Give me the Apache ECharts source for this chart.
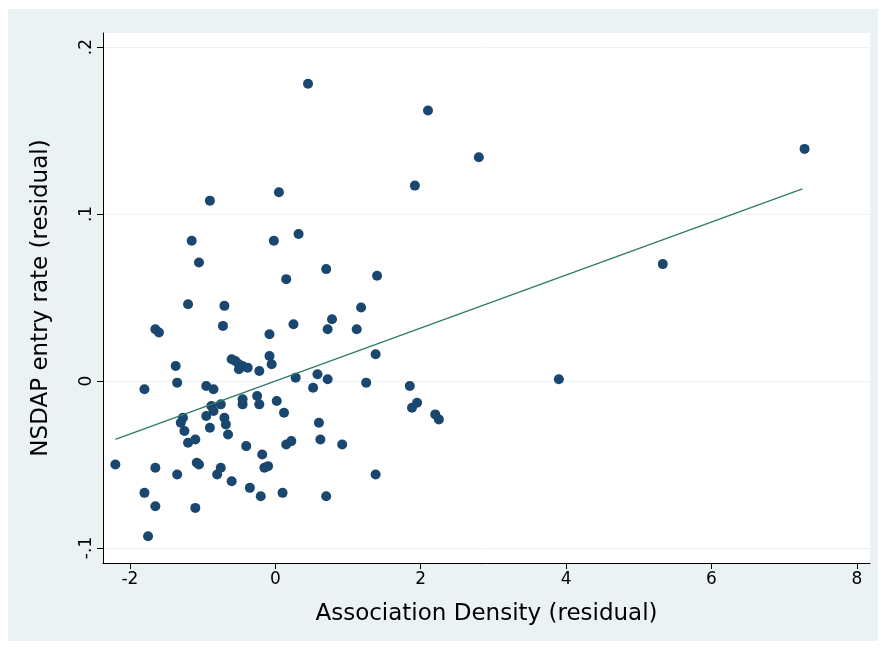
<!DOCTYPE html>
<html>
<head>
<meta charset="utf-8">
<script src="https://cdn.jsdelivr.net/npm/echarts@6/dist/echarts.min.js"></script>
<style>body{margin:0;background:#fff}#main{width:883px;height:649px}</style>
</head>
<body>
<div id="main"></div>
<script>
const points = [
  [-2.2,-0.05],[-1.8,-0.067],[-1.8,-0.005],[-1.75,-0.093],[-1.65,-0.075],[-1.65,-0.052],[-1.65,0.031],[-1.6,0.029],
  [-1.37,0.009],[-1.35,-0.001],[-1.35,-0.056],[-1.3,-0.025],[-1.27,-0.022],[-1.25,-0.03],[-1.2,-0.037],[-1.2,0.046],
  [-1.15,0.084],[-1.1,-0.035],[-1.1,-0.076],[-1.08,-0.049],[-1.05,-0.05],[-1.05,0.071],[-0.95,-0.021],[-0.95,-0.003],
  [-0.9,-0.028],[-0.9,0.108],[-0.88,-0.015],[-0.85,-0.005],[-0.85,-0.018],[-0.8,-0.056],[-0.75,-0.014],[-0.75,-0.052],
  [-0.72,0.033],[-0.7,0.045],[-0.7,-0.022],[-0.68,-0.026],[-0.65,-0.032],[-0.6,0.013],[-0.6,-0.06],[-0.55,0.012],
  [-0.5,0.007],[-0.5,0.01],[-0.45,0.009],[-0.45,-0.014],[-0.45,-0.011],[-0.4,-0.039],[-0.38,0.008],[-0.35,-0.064],
  [-0.25,-0.009],[-0.22,0.006],[-0.22,-0.014],[-0.2,-0.069],[-0.18,-0.044],[-0.15,-0.052],[-0.1,-0.051],[-0.08,0.028],
  [-0.08,0.015],[-0.05,0.01],[-0.02,0.084],[0.02,-0.012],[0.05,0.113],[0.1,-0.067],[0.12,-0.019],[0.15,0.061],
  [0.15,-0.038],[0.22,-0.036],[0.25,0.034],[0.28,0.002],[0.32,0.088],[0.45,0.178],[0.52,-0.004],[0.58,0.004],
  [0.6,-0.025],[0.62,-0.035],[0.7,0.067],[0.7,-0.069],[0.72,0.031],[0.72,0.001],[0.78,0.037],[0.92,-0.038],
  [1.12,0.031],[1.18,0.044],[1.25,-0.001],[1.38,0.016],[1.4,0.063],[1.38,-0.056],[1.85,-0.003],[1.88,-0.016],
  [1.92,0.117],[1.95,-0.013],[2.1,0.162],[2.2,-0.02],[2.25,-0.023],[2.8,0.134],[3.9,0.001],[5.33,0.07],[7.28,0.139]
];
const fitLine = [[-2.2,-0.035],[7.25,0.115]];
const xTicks = [-2,0,2,4,6,8];
const yTicks = [-0.1,0,0.1,0.2];
const yLabels = {'-0.1':'-.1','0':'0','0.1':'.1','0.2':'.2'};

const chart = echarts.init(document.getElementById('main'));
chart.setOption({
  animation: false,
  graphic: [{type:'rect', z:-10, shape:{x:8,y:9,width:870,height:632}, style:{fill:'#eaf2f3'}}],
  grid: {left:103, right:13, top:33, bottom:86, show:true, backgroundColor:'#fff', borderWidth:0},
  xAxis: {
    type:'value', min:-2.37, max:8.18,
    name:'Association Density (residual)', nameLocation:'middle', nameGap:40,
    nameTextStyle:{fontSize:23, color:'#000', fontFamily:'DejaVu Sans'},
    axisLine:{onZero:false, lineStyle:{color:'#000'}},
    axisTick:{customValues:xTicks, length:6, lineStyle:{color:'#000'}},
    axisLabel:{customValues:xTicks, fontSize:17, color:'#000', fontFamily:'DejaVu Sans'},
    splitLine:{show:false}
  },
  yAxis: {
    type:'value', min:-0.109, max:0.2084,
    name:'NSDAP entry rate (residual)', nameLocation:'middle', nameGap:50,
    nameTextStyle:{fontSize:23, color:'#000', fontFamily:'DejaVu Sans'},
    axisLine:{show:true, onZero:false, lineStyle:{color:'#000'}},
    axisTick:{show:true, customValues:yTicks, length:6, lineStyle:{color:'#000'}},
    axisLabel:{customValues:yTicks, rotate:90, fontSize:17, color:'#000', fontFamily:'DejaVu Sans',
      formatter: v => yLabels[String(Math.round(v*10)/10)] ?? v},
    splitLine:{show:true, customValues:yTicks, lineStyle:{color:'#eaf2f3', width:1}}
  },
  series: [
    {type:'scatter', data:points, symbol:'circle', symbolSize:10,
     itemStyle:{color:'#1a476f', opacity:1}},
    {type:'line', data:fitLine, symbol:'none', lineStyle:{color:'#2d7a6a', width:1.3}}
  ]
});
</script>
</body>
</html>
